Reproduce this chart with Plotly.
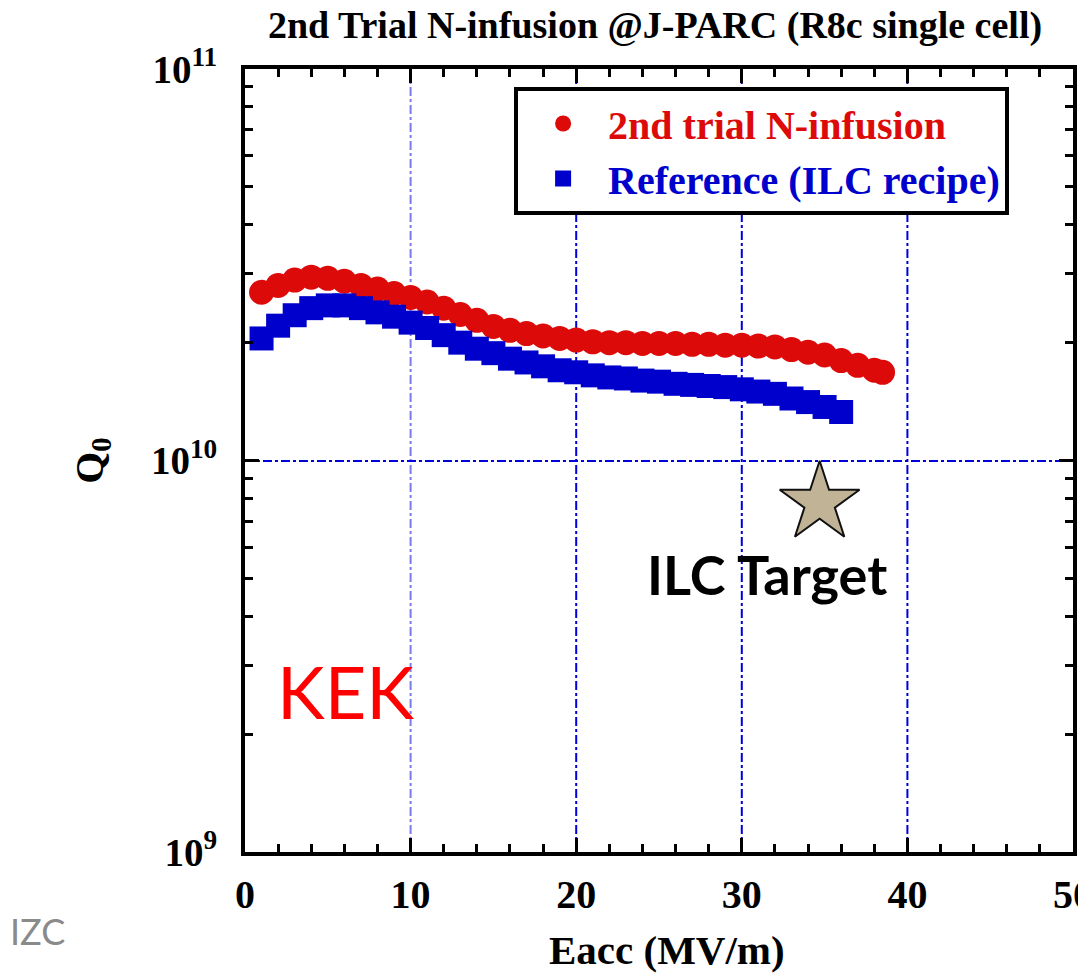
import plotly.graph_objects as go

# ---- data ----
eacc_ninf = [1, 2, 3, 4, 5, 6, 7, 8, 9, 10, 11, 12, 13, 14, 15, 16, 17, 18, 19, 20,
             21, 22, 23, 24, 25, 26, 27, 28, 29, 30, 31, 32, 33, 34, 35, 36, 37, 38, 38.5]
q0_ninf = [2.69e10, 2.80e10, 2.89e10, 2.94e10, 2.92e10, 2.87e10, 2.80e10, 2.74e10, 2.67e10, 2.61e10,
           2.54e10, 2.45e10, 2.36e10, 2.28e10, 2.20e10, 2.15e10, 2.11e10, 2.08e10, 2.05e10, 2.03e10,
           2.01e10, 2.00e10, 2.00e10, 1.99e10, 1.99e10, 1.99e10, 1.98e10, 1.98e10, 1.97e10, 1.97e10,
           1.96e10, 1.95e10, 1.92e10, 1.89e10, 1.86e10, 1.80e10, 1.75e10, 1.70e10, 1.68e10]

eacc_ref = [1, 2, 3, 4, 5, 6, 7, 8, 9, 10, 11, 12, 13, 14, 15, 16, 17, 18, 19, 20,
            21, 22, 23, 24, 25, 26, 27, 28, 29, 30, 31, 32, 33, 34, 35, 36]
q0_ref = [2.05e10, 2.21e10, 2.35e10, 2.45e10, 2.49e10, 2.49e10, 2.45e10, 2.39e10, 2.33e10, 2.25e10,
          2.18e10, 2.09e10, 2.00e10, 1.93e10, 1.88e10, 1.82e10, 1.78e10, 1.74e10, 1.70e10, 1.68e10,
          1.65e10, 1.63e10, 1.62e10, 1.60e10, 1.59e10, 1.57e10, 1.56e10, 1.55e10, 1.54e10, 1.52e10,
          1.50e10, 1.48e10, 1.44e10, 1.41e10, 1.37e10, 1.33e10]

target_eacc = [34.7]
target_q0 = [7.8e9]

x_ticks = [0, 10, 20, 30, 40, 50]
x_grid = [10, 20, 30, 40]
x_grid_colors = ["#7b7bea", "#0000dd", "#0000dd", "#0000dd"]
y_ticks = [1e9, 1e10, 1e11]
y_ticktext = ["10<sup>9</sup>", "10<sup>10</sup>", "10<sup>11</sup>"]
y_minor = [m * 10 ** e for e in (9, 10) for m in range(2, 10)]

title_text = "2nd Trial N-infusion @J-PARC (R8c single cell)"
x_title = "Eacc (MV/m)"
name_ninf = "2nd trial N-infusion"
name_ref = "Reference (ILC recipe)"

SERIF = "Liberation Serif"
RED = "#dd0a0a"
BLUE = "#0000cc"

# the page body has an 8px margin, so the figure is sized to fill the rest of the window
FIG_W, FIG_H = 1078, 968
PLOT_L, PLOT_T, PLOT_W, PLOT_H = 237, 61, 828, 783

fig = go.Figure()
fig.add_trace(go.Scatter(
    x=eacc_ninf, y=q0_ninf, mode="markers", legendgroup="a",
    name=f"<span style='color:{RED}'>{name_ninf}</span>",
    marker=dict(symbol="circle", size=25, color=RED, line=dict(width=0)),
))
fig.add_trace(go.Scatter(
    x=eacc_ref, y=q0_ref, mode="markers", legendgroup="b",
    name=f"<span style='color:{BLUE}'>{name_ref}</span>",
    marker=dict(symbol="square", size=24, color=BLUE, line=dict(width=0)),
))
fig.add_trace(go.Scatter(
    x=target_eacc, y=target_q0, mode="markers", showlegend=False,
    marker=dict(symbol="star", size=60, color="#c0b396", line=dict(width=2, color="#111111")),
))

for v, c in zip(x_grid, x_grid_colors):
    fig.add_vline(x=v, line=dict(color=c, width=2, dash="dashdot"), layer="below")

fig.add_annotation(x=31.55, y=9.71, yref="y", xref="x", text="ILC Target", showarrow=False,
                   font=dict(family="Lato", size=54, color="black", weight="bold"))
fig.add_annotation(x=6.04, y=9.41, yref="y", xref="x", text="KEK", showarrow=False,
                   font=dict(family="Lato", size=72, color="#ff0000"))
fig.add_annotation(x=-PLOT_L / PLOT_W, y=-78.5 / PLOT_H, xref="paper", yref="paper",
                   xanchor="left", yanchor="middle", text="IZC", showarrow=False,
                   font=dict(family="Lato", size=36, color="#8a8a8a"))
# x-axis title placed as an annotation so it stays inside the page
fig.add_annotation(x=(659 - PLOT_L) / PLOT_W, y=-(FIG_H - 1 - (PLOT_T + PLOT_H)) / PLOT_H,
                   xref="paper", yref="paper",
                   xanchor="center", yanchor="bottom", text=x_title, showarrow=False,
                   font=dict(family=SERIF, size=41, color="black", weight="bold"))

axis_common = dict(
    showline=True, linecolor="black", linewidth=4, mirror="ticks",
    ticks="inside", tickcolor="black", tickwidth=3, ticklen=14,
    zeroline=False, automargin=False,
)

fig.update_layout(
    width=FIG_W, height=FIG_H,
    margin=dict(l=PLOT_L, r=FIG_W - PLOT_L - PLOT_W, t=PLOT_T, b=FIG_H - PLOT_T - PLOT_H,
                autoexpand=False),
    paper_bgcolor="white", plot_bgcolor="white",
    title=dict(text=title_text, x=647 / FIG_W, xanchor="center", y=1 - 17 / FIG_H,
               yanchor="middle",
               font=dict(family=SERIF, size=38, color="black", weight="bold")),
    xaxis=dict(
        range=[0, 50], tickmode="array", tickvals=x_ticks, showgrid=False,
        tickfont=dict(family=SERIF, size=40, color="black", weight="bold"),
        ticklabelstandoff=4, ticklabeloverflow="allow",
        minor=dict(ticks="inside", dtick=2, tick0=0, ticklen=8, tickwidth=3, tickcolor="black",
                   showgrid=False),
        **axis_common,
    ),
    yaxis=dict(
        type="log", range=[9, 11], tickmode="array", tickvals=y_ticks, ticktext=y_ticktext,
        showgrid=True, gridcolor="#0000dd", gridwidth=2, griddash="dashdot",
        tickfont=dict(family=SERIF, size=39, color="black", weight="bold"),
        ticklabelstandoff=16, ticklabeloverflow="allow",
        minor=dict(ticks="inside", tickmode="array", tickvals=y_minor, ticklen=8, tickwidth=3,
                   tickcolor="black", showgrid=False),
        title=dict(text="Q<sub>0</sub>", standoff=36,
                   font=dict(family=SERIF, size=41, color="black", weight="bold")),
        **axis_common,
    ),
    legend=dict(
        x=0.325, y=0.977, xanchor="left", yanchor="top",
        bordercolor="black", borderwidth=4, bgcolor="white",
        font=dict(family=SERIF, size=40, weight="bold"),
        itemwidth=80, tracegroupgap=0, traceorder="grouped",
    ),
)

fig.write_html("out.html")
